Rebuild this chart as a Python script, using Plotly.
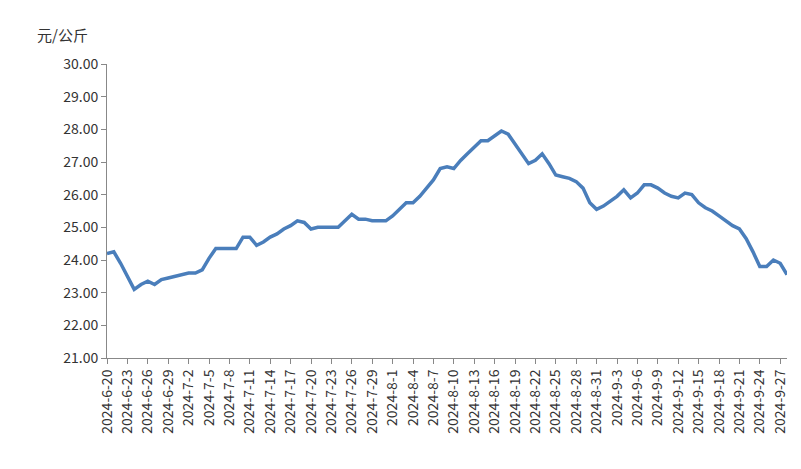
import plotly.graph_objects as go
import datetime as dt

start = dt.date(2024, 6, 20)
prices = [24.2,24.25,23.9,23.5,23.1,23.25,23.35,23.25,23.4,23.45,23.5,23.55,23.6,23.6,23.7,24.05,24.35,24.35,24.35,24.35,
          24.7,24.7,24.45,24.55,24.7,24.8,24.95,25.05,25.2,25.15,24.95,25.0,25.0,25.0,25.0,25.2,25.4,25.25,25.25,25.2,
          25.2,25.2,25.35,25.55,25.75,25.75,25.95,26.2,26.45,26.8,26.85,26.8,27.05,27.25,27.45,27.65,27.65,27.8,27.95,27.85,
          27.55,27.25,26.95,27.05,27.25,26.95,26.6,26.55,26.5,26.4,26.2,25.75,25.55,25.65,25.8,25.95,26.15,25.9,26.05,26.3,
          26.3,26.2,26.05,25.95,25.9,26.05,26.0,25.75,25.6,25.5,25.35,25.2,25.05,24.95,24.65,24.25,23.8,23.8,24.0,23.9,23.55]
dates = [(start + dt.timedelta(days=i)) for i in range(len(prices))]
labels = [f"{d.year}-{d.month}-{d.day}" for d in dates]
tick_labels = labels[::3]

font = "Noto Sans CJK SC"
fig = go.Figure(go.Scatter(x=labels, y=prices, mode="lines",
                           line=dict(color="#4a7ebb", width=3.5)))
fig.update_layout(
    width=801, height=469, margin=dict(l=99, r=22, t=56, b=119, autoexpand=False),
    plot_bgcolor="white", paper_bgcolor="white", showlegend=False,
    font=dict(family=font, size=14, color="#333"),
    annotations=[dict(text="元/公斤", x=0, y=1, xref="paper", yref="paper",
                      xshift=-72, yshift=42, showarrow=False, xanchor="left",
                      yanchor="top", font=dict(size=15, color="#333"))],
)
fig.update_xaxes(type="category", tickvals=tick_labels, ticktext=tick_labels,
                 tickangle=-90, showline=True, linecolor="#888", showgrid=False,
                 ticks="outside", ticklen=5, tickcolor="#888", range=[0, len(prices)-1],
                 automargin=False)
fig.update_yaxes(range=[21, 30], dtick=1, tickformat=".2f", showline=True,
                 linecolor="#888", showgrid=False, ticks="outside", ticklen=5,
                 tickcolor="#888", zeroline=False, automargin=False)
fig.write_html("out.html")
